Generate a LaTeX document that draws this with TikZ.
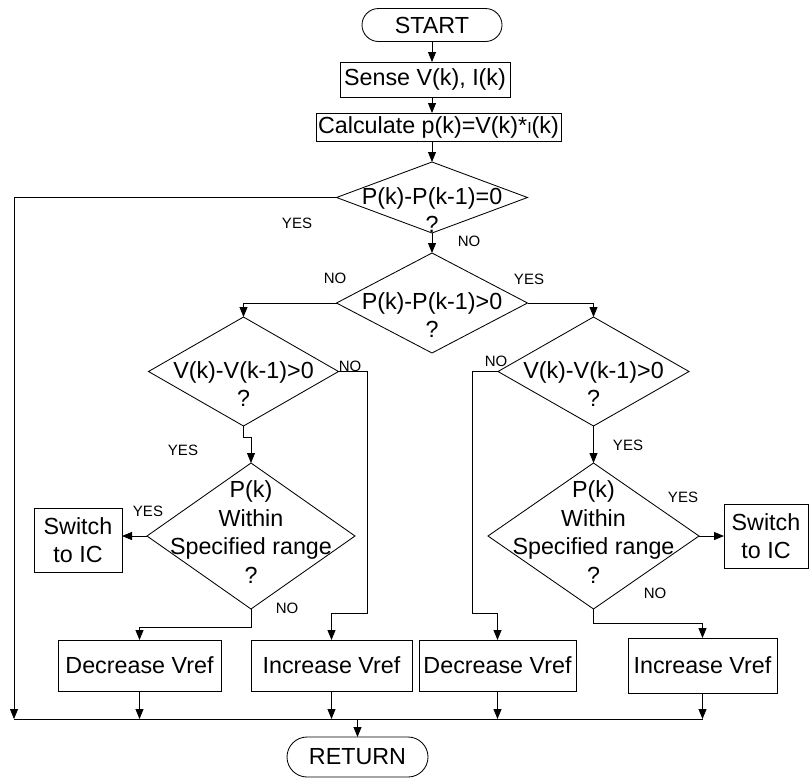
\documentclass[tikz,border=0pt]{standalone}
\usepackage{fontspec}
\setmainfont{Liberation Sans}
\usetikzlibrary{arrows.meta,shapes.geometric,shapes.misc}

\begin{document}
\begin{tikzpicture}[x=1pt,y=-1pt,
  line width=0.85pt,
  every node/.style={font=\fontsize{23.3}{28.5}\selectfont},
  box/.style={draw, rectangle, inner sep=0pt, outer sep=0pt, align=center},
  term/.style={draw, rounded rectangle, inner sep=0pt, outer sep=0pt},
  dec/.style={draw, diamond, inner sep=0pt, outer sep=0pt},
  txt/.style={align=center, inner sep=0pt},
  lbl/.style={font=\fontsize{15}{18}\selectfont, inner sep=0pt},
  arr/.style={-{Triangle[length=10pt,width=8pt]}},
]
\useasboundingbox (0,0) rectangle (809,780);

% terminals and process boxes
\node[term, minimum width=140pt, minimum height=33pt] (start) at (432,25) {START};
\node[box, minimum width=170pt, minimum height=35pt] (sense) at (425,79.5) {Sense V(k), I(k)};
\node[box, minimum width=245pt, minimum height=28pt] (calc) at (438.5,127)
  {Calculate p(k)=V(k)*{\fontsize{16}{16}\selectfont I}(k)};

% decision diamonds
\node[dec, minimum width=191pt, minimum height=71pt]  (d1) at (432,197.5) {};
\node[dec, minimum width=191pt, minimum height=100pt] (d2) at (432,303) {};
\node[dec, minimum width=190pt, minimum height=109pt] (d3) at (243.5,371.5) {};
\node[dec, minimum width=191pt, minimum height=109pt] (d4) at (593.5,371.5) {};
\node[dec, minimum width=208pt, minimum height=146pt] (d5) at (251,536) {};
\node[dec, minimum width=211pt, minimum height=146pt] (d6) at (593.5,536) {};

\node[txt] (t1) at (432,210) {P(k)-P(k-1)=0\\?};
\node[txt] (t2) at (432,315) {P(k)-P(k-1)>0\\?};
\node[txt] (t3) at (243.5,384) {V(k)-V(k-1)>0\\?};
\node[txt] (t4) at (593.5,384) {V(k)-V(k-1)>0\\?};
\node[txt] (t5) at (251,532) {P(k)\\Within\\Specified range\\?};
\node[txt] (t6) at (593.5,532) {P(k)\\Within\\Specified range\\?};

% outcome boxes
\node[box, minimum width=88pt, minimum height=64pt] (sw1) at (78,540) {Switch\\to IC};
\node[box, minimum width=84pt, minimum height=64pt] (sw2) at (766,536) {Switch\\to IC};
\node[box, minimum width=163pt, minimum height=51pt] (dec1) at (139.5,665.5) {Decrease Vref};
\node[box, minimum width=161pt, minimum height=51pt] (inc1) at (331.5,665.5) {Increase Vref};
\node[box, minimum width=157pt, minimum height=51pt] (dec2) at (497.5,665.5) {Decrease Vref};
\node[box, minimum width=149pt, minimum height=55pt] (inc2) at (702.5,665.5) {Increase Vref};
\node[term, minimum width=141pt, minimum height=40pt] (ret) at (357.5,757) {RETURN};

% main column
\draw[arr] (start.south) -- (start.south |- sense.north);
\draw[arr] (start.south |- sense.south) -- (start.south |- calc.north);
\draw[arr] (start.south |- calc.south) -- (d1.north);
\draw[arr] (d1.south) -- (d2.north);

% branches
\coordinate (busL) at (14,719);
\coordinate (j3) at (367,613);
\coordinate (j4) at (472,613);
\draw[arr] (d1.west) -| (busL);
\draw[arr] (d2.west) -| (d3.north);
\draw[arr] (d2.east) -| (d4.north);
\draw[arr] (d3.east) -| (j3) -| (inc1.north);
\draw[arr] (d3.south) -- ++(0,11) -| (d5.north);
\draw[arr] (d5.west) -- (d5.west -| sw1.east);
\draw[arr] (d5.south) -- ++(0,18) -| (dec1.north);
\draw[arr] (d4.west) -| (j4) -| (dec2.north);
\draw[arr] (d4.south) -- (d6.north);
\draw[arr] (d6.east) -- (sw2.west);
\draw[arr] (d6.south) -- ++(0,14) -| (inc2.north);

% collecting bus
\coordinate (busR) at (inc2.south |- busL);
\draw (busL) -- (busR);
\foreach \n in {dec1,inc1,dec2,inc2}
  \draw[arr] (\n.south) -- (\n.south |- busL);
\draw[arr] (ret.north |- busL) -- (ret.north);

% branch labels
\node[lbl] (y1) at (297,223) {YES};
\node[lbl] (n1) at (469,241) {NO};
\node[lbl] (n2) at (335,278) {NO};
\node[lbl] (y2) at (529,279) {YES};
\node[lbl] (n3) at (350,366) {NO};
\node[lbl] (y3) at (183,450) {YES};
\node[lbl] (y5) at (148,511) {YES};
\node[lbl] (n5) at (287,608) {NO};
\node[lbl] (n4) at (496,361) {NO};
\node[lbl] (y4) at (628,445) {YES};
\node[lbl] (y6) at (683,497) {YES};
\node[lbl] (n6) at (655,593) {NO};
\end{tikzpicture}
\end{document}
